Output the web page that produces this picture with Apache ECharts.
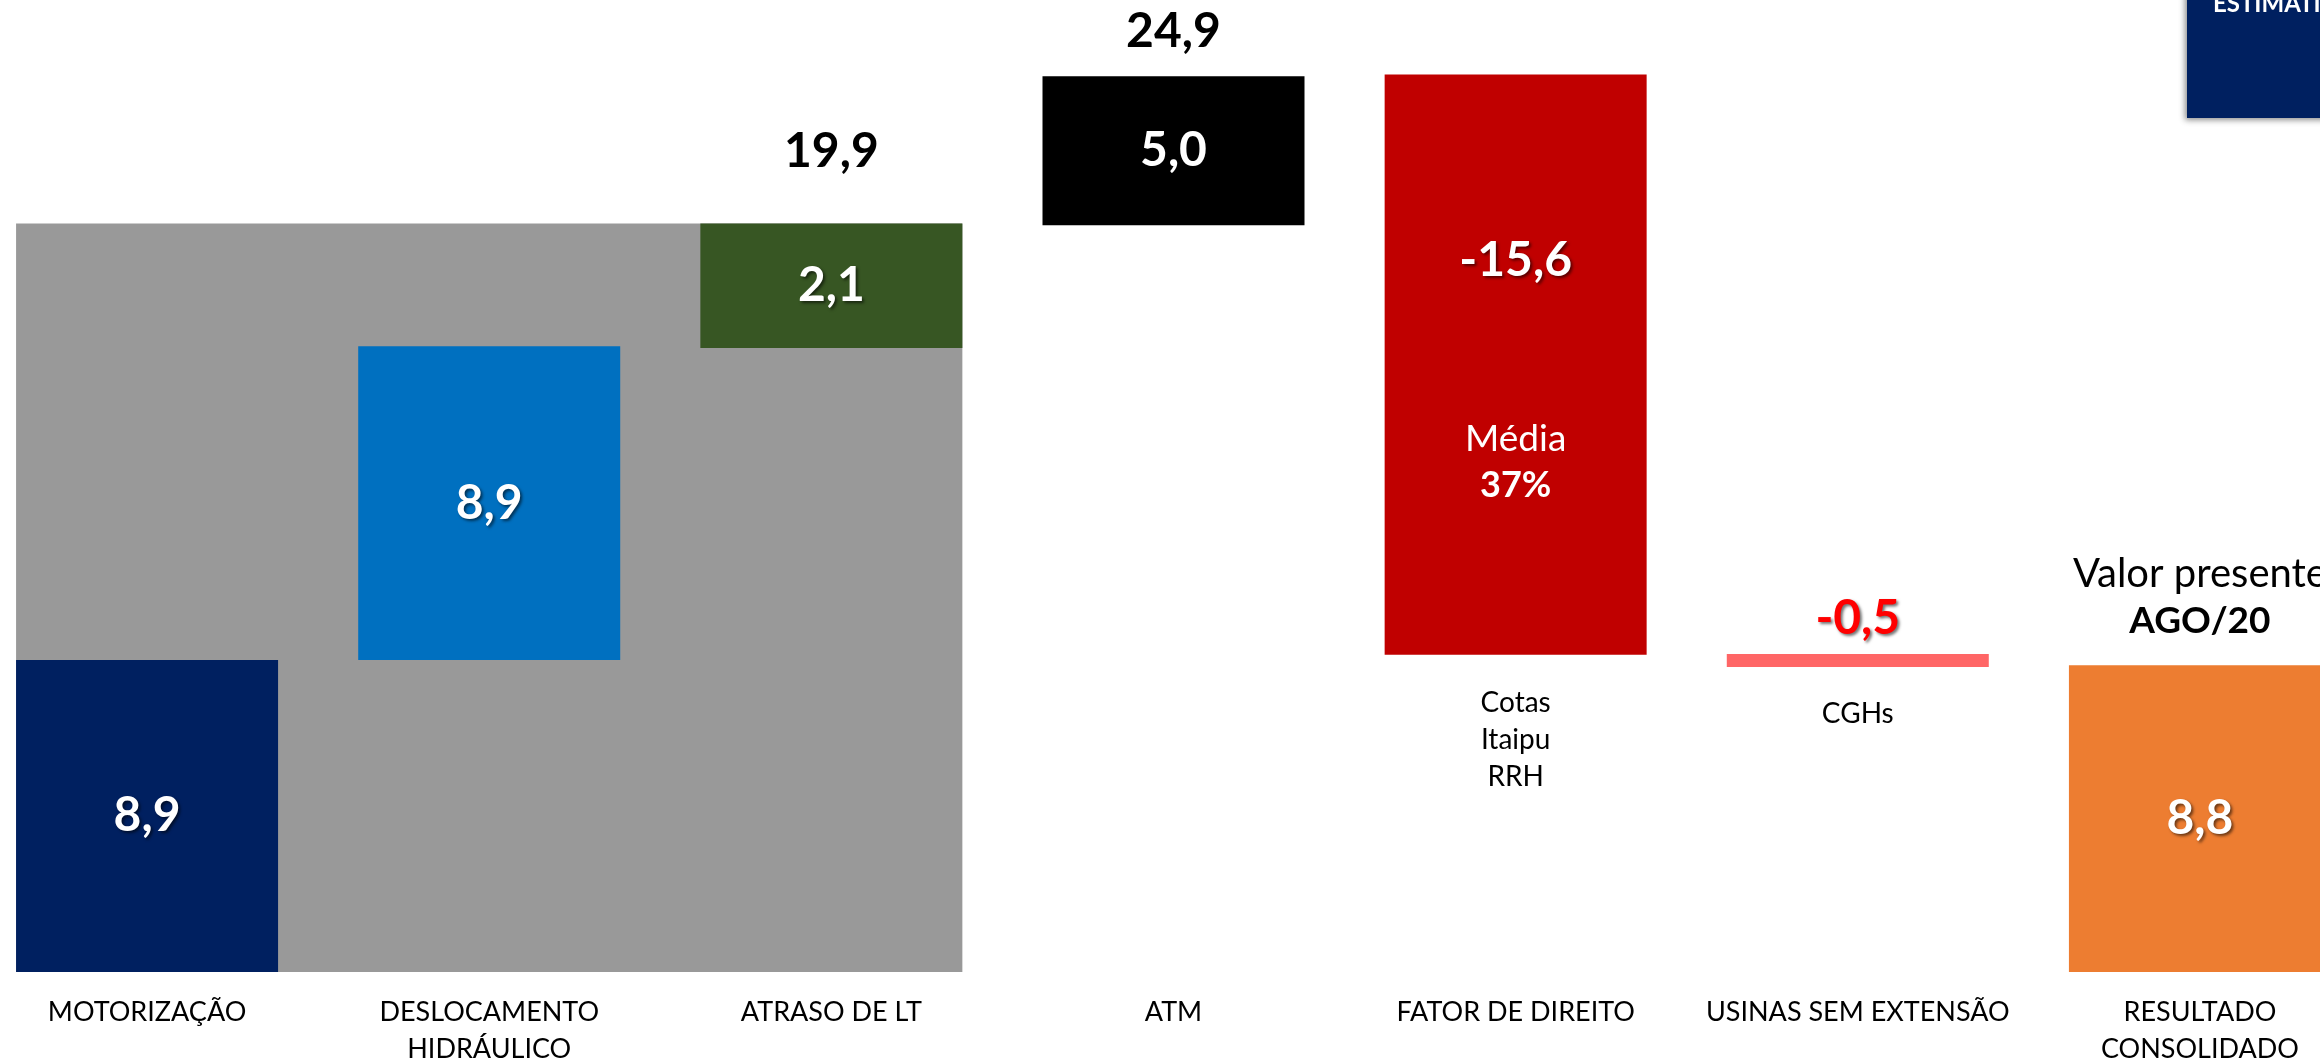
<!DOCTYPE html>
<html>
<head>
<meta charset="utf-8">
<script src="https://cdn.jsdelivr.net/npm/echarts@6/dist/echarts.min.js"></script>
<style>
  html, body { margin: 0; padding: 0; background: #fff; }
  #chart { width: 2320px; height: 1061px; }
</style>
</head>
<body>
<div id="chart"></div>
<script>
// categorias do eixo x
var categories = ['MOTORIZAÇÃO', 'DESLOCAMENTO\nHIDRÁULICO', 'ATRASO DE LT', 'ATM',
                  'FATOR DE DIREITO', 'USINAS SEM EXTENSÃO', 'RESULTADO\nCONSOLIDADO'];
// base e topo de cada barra (como desenhado no slide)
var barLow  = [0,   8.9,   17.8,  21.3,  9.05, 8.7,  0];
var barHigh = [8.9, 17.85, 21.35, 25.55, 25.6, 9.07, 8.75];
// textos dos valores
var valueLabels = ['8,9', '8,9', '2,1', '5,0', '-15,6', '-0,5', '8,8'];
var totalLabels = ['', '', '19,9', '24,9', '', '', ''];
var subLabels   = ['', '', '', '', 'Cotas\nItaipu\nRRH', 'CGHs', ''];
var barColors   = ['#002060', '#0070c0', '#375623', '#000000', '#c00000', '#ff6666', '#ed7d31'];
// caixa cinza atrás das tres primeiras barras
var grayBox = [[0, 2, 21.35]];

var FONT = 'Lato, "Open Sans", sans-serif';
var BAR_W = 262;
var shadow = { textShadowColor: 'rgba(0,0,0,0.55)', textShadowOffsetX: 2, textShadowOffsetY: 2, textShadowBlur: 3 };

function baseData() {
    return barLow.map(function (v, i) {
        var item = { value: v };
        if (subLabels[i]) {
            item.label = {
                show: true, position: 'insideTop', distance: i == 4 ? 30 : 28,
                formatter: subLabels[i], color: '#000', fontSize: 28,
                lineHeight: 37, fontFamily: FONT
            };
        }
        return item;
    });
}

function valueData() {
    return barLow.map(function (v, i) {
        var item = {
            value: +(barHigh[i] - v).toFixed(3),
            itemStyle: { color: barColors[i] },
            label: Object.assign({
                show: true, position: 'inside', formatter: valueLabels[i],
                color: '#fff', fontSize: 48, fontWeight: 'bold', fontFamily: FONT
            }, shadow)
        };
        if (i == 4) {
            item.label = {
                show: true, position: 'insideTop', distance: 160,
                formatter: '{v|' + valueLabels[i] + '}\n{s| }\n{m|Média}\n{p|37%}',
                rich: {
                    v: Object.assign({ color: '#fff', fontSize: 48, fontWeight: 'bold', fontFamily: FONT, lineHeight: 52 }, shadow),
                    s: { lineHeight: 129, fontSize: 10 },
                    m: { color: '#fff', fontSize: 37, fontFamily: FONT, lineHeight: 46 },
                    p: { color: '#fff', fontSize: 36, fontWeight: 'bold', fontFamily: FONT, lineHeight: 48 }
                }
            };
        }
        if (i == 5) {
            item.label = Object.assign({
                show: true, position: 'top', distance: 12, formatter: valueLabels[i],
                color: '#ff0000', fontSize: 48, fontWeight: 'bold', fontFamily: FONT
            }, shadow);
        }
        return item;
    });
}

// rótulos acima das barras (totais e texto do resultado)
function topData() {
    return barHigh.map(function (v, i) {
        var item = { value: 0 };
        if (totalLabels[i]) {
            item.label = {
                show: true, position: 'top', distance: i == 2 ? 48 : 21,
                formatter: totalLabels[i], color: '#000', fontSize: 48,
                fontWeight: 'bold', fontFamily: FONT
            };
        }
        if (i == 6) {
            item.label = {
                show: true, position: 'top', distance: 22,
                formatter: '{a|Valor presente}\n{b|AGO/20}',
                rich: {
                    a: { color: '#000', fontSize: 40, fontFamily: FONT, lineHeight: 50 },
                    b: { color: '#000', fontSize: 37, fontWeight: 'bold', fontFamily: FONT, lineHeight: 44 }
                }
            };
        }
        return item;
    });
}

var chart = echarts.init(document.getElementById('chart'));
var option = {
    backgroundColor: '#fff',
    animation: false,
    grid: { left: -24, width: 2395, top: 1, height: 971, containLabel: false, outerBoundsMode: 'none' },
    xAxis: {
        type: 'category',
        data: categories,
        axisLine: { show: false },
        axisTick: { show: false },
        axisLabel: {
            interval: 0, margin: 22, color: '#000', fontSize: 27,
            lineHeight: 37, fontFamily: FONT
        }
    },
    yAxis: {
        type: 'value', min: 0, max: 27.7, show: false,
        splitLine: { show: false }
    },
    graphic: [
        {
            type: 'rect', left: 2187, top: -20, z: 10,
            shape: { width: 200, height: 138 },
            style: { fill: '#002060', shadowColor: 'rgba(0,0,0,0.45)', shadowBlur: 6, shadowOffsetX: -2, shadowOffsetY: 2 }
        },
        {
            type: 'text', left: 2213, top: -8, z: 11,
            style: { text: 'ESTIMATIVA', fill: '#fff', font: 'bold 24px ' + FONT }
        }
    ],
    series: [
        {
            type: 'custom',
            z: 1,
            encode: { x: [0, 1], y: 2 },
            data: grayBox,
            renderItem: function (params, api) {
                var a = api.coord([api.value(0), 0]);
                var b = api.coord([api.value(1), api.value(2)]);
                return {
                    type: 'rect',
                    shape: { x: a[0] - BAR_W / 2, y: b[1], width: b[0] - a[0] + BAR_W, height: a[1] - b[1] },
                    style: { fill: '#999999' }
                };
            }
        },
        {
            name: 'base',
            type: 'bar',
            stack: 'w',
            z: 2,
            barWidth: BAR_W,
            itemStyle: { color: 'transparent' },
            data: baseData()
        },
        {
            name: 'valor',
            type: 'bar',
            stack: 'w',
            z: 3,
            barWidth: BAR_W,
            data: valueData()
        },
        {
            name: 'topo',
            type: 'bar',
            stack: 'w',
            z: 4,
            barWidth: BAR_W,
            itemStyle: { color: 'transparent' },
            data: topData()
        }
    ]
};
chart.setOption(option);
</script>
</body>
</html>
